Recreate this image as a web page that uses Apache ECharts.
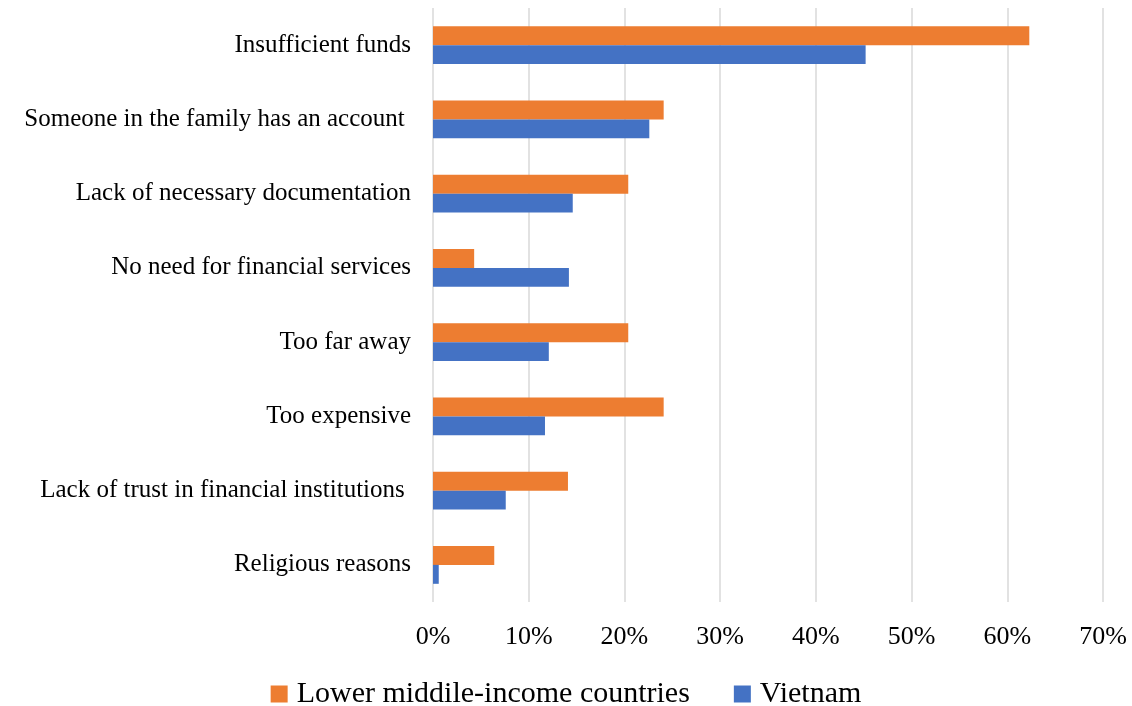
<!DOCTYPE html>
<html><head><meta charset="utf-8">
<script src="https://cdn.jsdelivr.net/npm/echarts@6/dist/echarts.min.js"></script>
<style>html,body{margin:0;padding:0;background:#fff}#c{width:1132px;height:706px}</style>
</head><body><div id="c"></div>
<script>
const categories = ["Insufficient funds","Someone in the family has an account ","Lack of necessary documentation","No need for financial services","Too far away","Too expensive","Lack of trust in financial institutions ","Religious reasons"];
const lowerMiddle = [62.3,24.1,20.4,4.3,20.4,24.1,14.1,6.4];
const vietnam = [45.2,22.6,14.6,14.2,12.1,11.7,7.6,0.6];
const seriesNames = ["Lower middile-income countries","Vietnam"];
const FONT = "Liberation Serif";
const chart = echarts.init(document.getElementById('c'));
chart.setOption({
  animation:false,
  textStyle:{fontFamily:FONT},
  grid:{left:433,right:29,top:8,bottom:104,containLabel:false},
  legend:{top:674,left:'center',itemWidth:17,itemHeight:17,itemGap:44,icon:'rect',
    textStyle:{fontFamily:FONT,fontSize:30,color:'#000',padding:[0,0,0,4]},data:seriesNames},
  xAxis:{type:'value',min:0,max:70,interval:10,
    axisLabel:{formatter:'{value}%',fontFamily:FONT,fontSize:26,color:'#000',margin:22},
    axisLine:{show:false},axisTick:{show:false},
    splitLine:{show:true,lineStyle:{color:'#d9d9d9',width:1.5}}},
  yAxis:{type:'category',data:categories,inverse:true,
    axisLabel:{fontFamily:FONT,fontSize:25,color:'#000',margin:22},
    axisLine:{show:false},axisTick:{show:false}},
  series:[
    {name:seriesNames[0],type:'bar',data:lowerMiddle,itemStyle:{color:'#ED7D31'},barGap:'0%',barCategoryGap:'49%'},
    {name:seriesNames[1],type:'bar',data:vietnam,itemStyle:{color:'#4472C4'},barGap:'0%',barCategoryGap:'49%'}
  ]
});
</script></body></html>
